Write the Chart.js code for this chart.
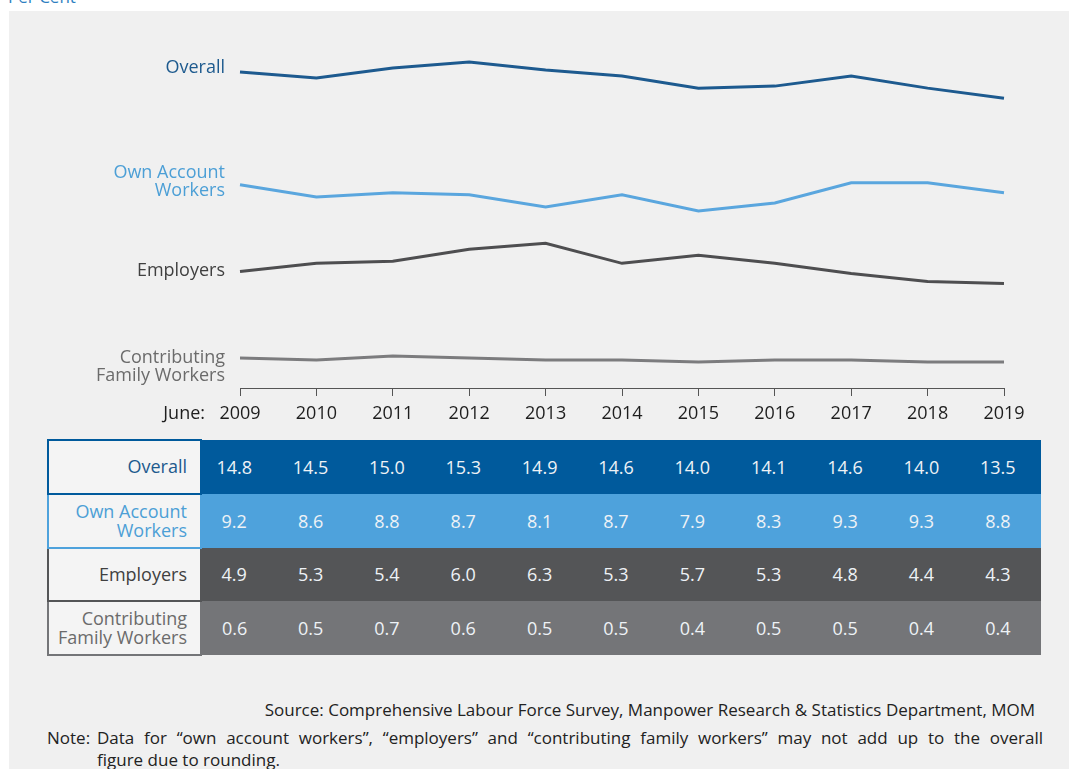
<!DOCTYPE html>
<html>
<head>
<meta charset="utf-8">
<script src="https://cdn.jsdelivr.net/npm/chart.js@4"></script>
<style>
  body { margin: 0; background: #fff; font-family: "Open Sans", sans-serif; }
  #wrap { position: relative; width: 1069px; height: 769px; overflow: hidden; }
  #panel { position: absolute; left: 9px; top: 11px; width: 1060px; height: 758px; background: #f0f0f0; }
  #unit { position: absolute; left: 8px; top: -15px; font-size: 17px; color: #2f7fc1; }
  #chartBox { position: absolute; left: 0; top: 0; width: 1069px; height: 430px; }
  table.data { position: absolute; left: 47px; top: 439px; width: 994px; border-collapse: collapse; table-layout: fixed; }
  table.data td { height: 53.8px; padding: 0; font-size: 18px; color: #eef2f6; text-align: center; padding-right: 10px; box-sizing: border-box; }
  table.data td.name { width: 153px; background: #f4f4f4; text-align: right; padding-right: 13px; line-height: 19px; }
  .foot { position: absolute; font-size: 17px; color: #222; }
  .just { text-align: justify; text-align-last: justify; }
</style>
</head>
<body>
<div id="wrap">
  <div id="unit">Per Cent</div>
  <div id="panel"></div>
  <div id="chartBox"><canvas id="selfEmployedChart" width="1069" height="430"></canvas></div>
  <table class="data" id="dataTable"></table>
  <div class="foot" style="right:34px; top:698px;">Source: Comprehensive Labour Force Survey, Manpower Research &amp; Statistics Department, MOM</div>
  <div class="foot" style="left:47px; top:727px; width:996px; line-height:22px;">
    <span style="position:absolute; left:0;">Note:</span>
    <div class="just" style="margin-left:50px; white-space:nowrap;">Data for “own account workers”, “employers” and “contributing family workers” may not add up to the overall</div>
    <div style="margin-left:50px;">figure due to rounding.</div>
  </div>
</div>

<script>
const years = ['2009', '2010', '2011', '2012', '2013', '2014', '2015', '2016', '2017', '2018', '2019'];

const overall      = [14.8, 14.5, 15.0, 15.3, 14.9, 14.6, 14.0, 14.1, 14.6, 14.0, 13.5];
const ownAccount   = [9.2, 8.6, 8.8, 8.7, 8.1, 8.7, 7.9, 8.3, 9.3, 9.3, 8.8];
const employers    = [4.9, 5.3, 5.4, 6.0, 6.3, 5.3, 5.7, 5.3, 4.8, 4.4, 4.3];
const contributing = [0.6, 0.5, 0.7, 0.6, 0.5, 0.5, 0.4, 0.5, 0.5, 0.4, 0.4];

// name lines, line colour, label colour, row colour, label y offsets from first point
const series = [
    { lines: ['Overall'], data: overall, line: '#1d5a8f', text: '#1d5a8e', row: '#005a9c', dy: [-4] },
    { lines: ['Own Account', 'Workers'], data: ownAccount, line: '#5aa6de', text: '#4c9fd6', row: '#4ea2dc', dy: [-12, 6] },
    { lines: ['Employers'], data: employers, line: '#4e4e50', text: '#404040', row: '#545557', dy: [-1] },
    { lines: ['Contributing', 'Family Workers'], data: contributing, line: '#7c7c7e', text: '#6b6b6b', row: '#747578', dy: [0, 18] }
];

// series names to the left of each line, plus the "June:" prefix on the axis
const sideLabels = {
    id: 'sideLabels',
    afterDraw(chart) {
        const ctx = chart.ctx;
        ctx.save();
        ctx.font = '18px "Open Sans"';
        ctx.textAlign = 'right';
        ctx.textBaseline = 'middle';
        chart.data.datasets.forEach((ds, i) => {
            const pt = chart.getDatasetMeta(i).data[0];
            ctx.fillStyle = series[i].text;
            series[i].lines.forEach((t, j) => ctx.fillText(t, 225, pt.y + series[i].dy[j]));
        });
        ctx.fillStyle = '#1e1e1e';
        ctx.fillText('June:', 205, 414);
        ctx.restore();
    }
};

new Chart(document.getElementById('selfEmployedChart'), {
    type: 'line',
    data: {
        labels: years,
        datasets: series.map(s => ({
            label: s.lines.join(' '),
            data: s.data,
            borderColor: s.line,
            borderWidth: 3,
            pointRadius: 0,
            tension: 0,
            fill: false
        }))
    },
    options: {
        responsive: false,
        animation: false,
        layout: { padding: { left: 240, right: 65, top: 40, bottom: 0 } },
        plugins: { legend: { display: false }, tooltip: { enabled: false } },
        scales: {
            x: {
                offset: false,
                afterFit: (s) => { s.height = 42; },
                border: { display: true, color: '#555', width: 1 },
                grid: { display: true, drawOnChartArea: false, drawTicks: true, tickLength: 8, color: '#555' },
                ticks: { color: '#1e1e1e', font: { family: 'Open Sans', size: 18 }, padding: 7, maxRotation: 0 }
            },
            y: {
                display: false,
                min: -0.89,
                max: 16.39
            }
        }
    },
    plugins: [sideLabels]
});

// table under the chart, built from the same arrays
const table = document.getElementById('dataTable');
series.forEach(s => {
    const tr = document.createElement('tr');
    const name = document.createElement('td');
    name.className = 'name';
    name.innerHTML = s.lines.join('<br>');
    name.style.color = s.text;
    name.style.border = '2px solid ' + s.row;
    tr.appendChild(name);
    s.data.forEach(v => {
        const td = document.createElement('td');
        td.textContent = v.toFixed(1);
        td.style.background = s.row;
        tr.appendChild(td);
    });
    table.appendChild(tr);
});
</script>
</body>
</html>
